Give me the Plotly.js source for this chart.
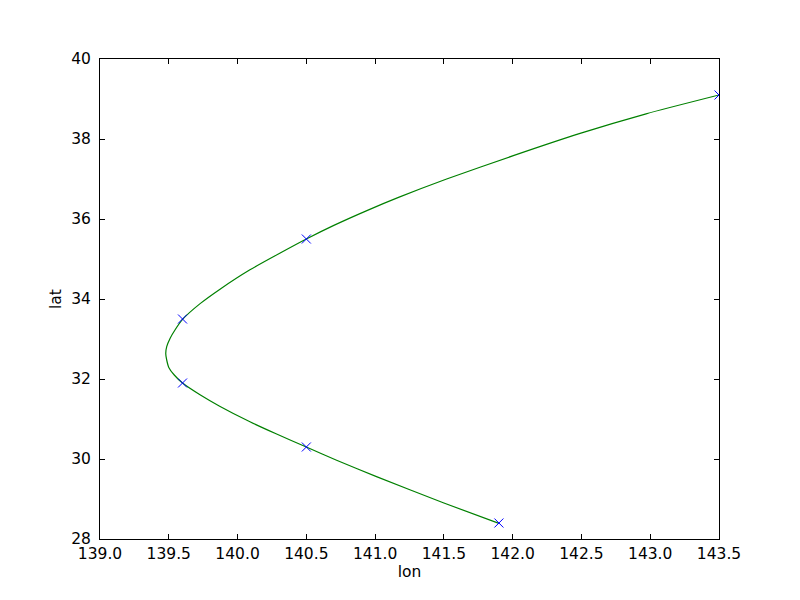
<!DOCTYPE html>
<html>
<head>
<meta charset="utf-8">
<script src="https://cdn.plot.ly/plotly-3.0.1.min.js"></script>
<style>html,body{margin:0;padding:0;background:#fff;}#chart{width:800px;height:600px;}</style>
</head>
<body>
<div id="chart"></div>
<script>
// Observed points (blue x markers)
var ptLon = [141.9, 140.5, 139.6, 139.6, 140.5, 143.5];
var ptLat = [28.4, 30.3, 31.9, 33.5, 35.5, 39.1];

// Smooth green curve
var curveLon = [141.90, 141.50, 141.01, 140.72, 140.50, 140.28, 140.09, 139.87, 139.73, 139.60, 139.54, 139.50, 139.485, 139.478, 139.485, 139.51, 139.545, 139.60, 139.73, 139.87, 140.09, 140.31, 140.50, 140.70, 140.94, 141.17, 141.52, 142.01, 142.49, 142.97, 143.50];
var curveLat = [28.39, 28.90, 29.56, 29.97, 30.30, 30.63, 30.93, 31.32, 31.60, 31.90, 32.10, 32.29, 32.475, 32.64, 32.81, 33.02, 33.225, 33.49, 33.89, 34.24, 34.73, 35.15, 35.50, 35.84, 36.21, 36.54, 37.00, 37.59, 38.14, 38.63, 39.10];

var xTicks = [139.0, 139.5, 140.0, 140.5, 141.0, 141.5, 142.0, 142.5, 143.0, 143.5];
var yTicks = [28, 30, 32, 34, 36, 38, 40];

var traces = [
  {x: curveLon, y: curveLat, mode: 'lines', type: 'scatter',
   line: {color: '#008000', width: 1.2, shape: 'spline', smoothing: 0.6}, hoverinfo: 'skip'},
  {x: ptLon, y: ptLat, mode: 'markers', type: 'scatter',
   marker: {symbol: 'x-thin-open', size: 9, color: '#0000ff', line: {color: '#0000ff', width: 1}}}
];

var fontFam = 'DejaVu Sans, sans-serif';
var fs = 15.5;
var layout = {
  width: 800, height: 600,
  paper_bgcolor: '#ffffff', plot_bgcolor: '#ffffff',
  showlegend: false,
  margin: {l: 100, r: 81, t: 59, b: 61, pad: 0},
  font: {family: fontFam, size: fs, color: '#000'},
  xaxis: {
    range: [139.0, 143.5], tickvals: xTicks, ticktext: xTicks.map(function(v){return v.toFixed(1);}),
    ticks: 'inside', ticklen: 5, tickcolor: '#000', tickwidth: 1,
    showline: true, linecolor: '#000', linewidth: 1, mirror: 'ticks',
    showgrid: false, zeroline: false, ticklabelstandoff: 0,
    tickfont: {family: fontFam, size: fs, color: '#000'},
    title: {text: 'lon', font: {family: fontFam, size: fs, color: '#000'}, standoff: 4}
  },
  yaxis: {
    range: [28, 40], tickvals: yTicks,
    ticks: 'inside', ticklen: 5, tickcolor: '#000', tickwidth: 1,
    showline: true, linecolor: '#000', linewidth: 1, mirror: 'ticks',
    showgrid: false, zeroline: false, ticklabelstandoff: 5,
    tickfont: {family: fontFam, size: fs, color: '#000'},
    title: {text: 'lat', font: {family: fontFam, size: fs, color: '#000'}, standoff: 5}
  }
};

Plotly.newPlot('chart', traces, layout, {displayModeBar: false, staticPlot: true});
</script>
</body>
</html>
